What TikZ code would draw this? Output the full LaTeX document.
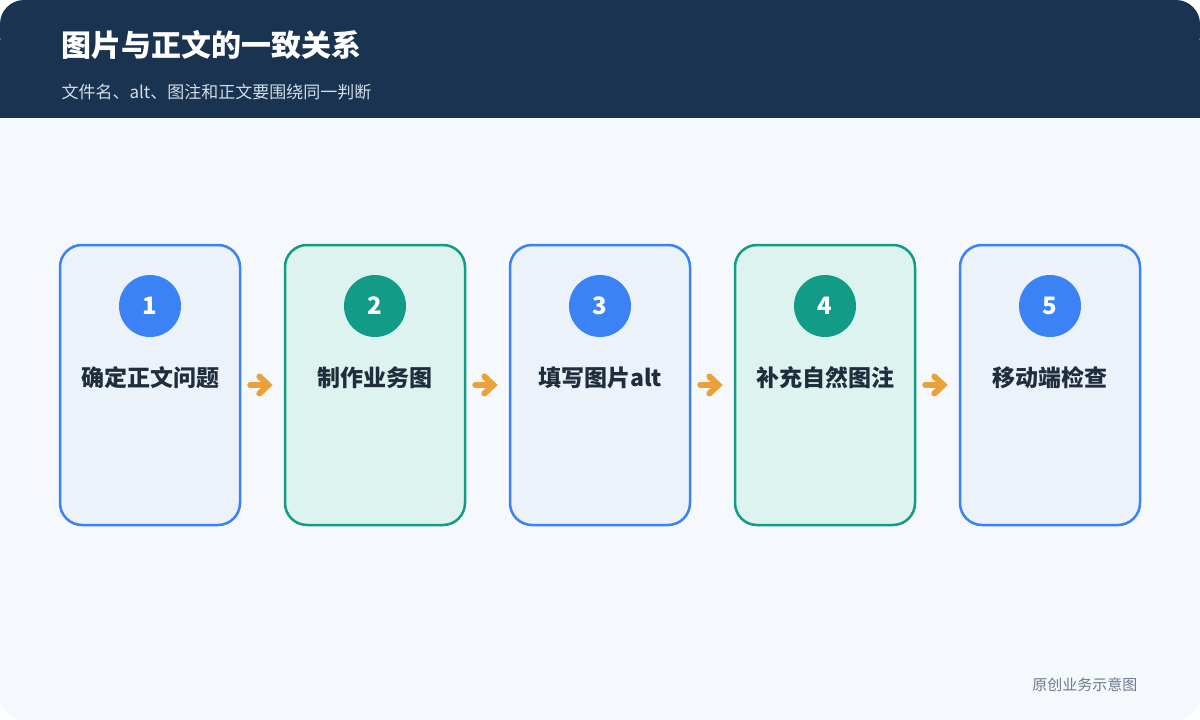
\documentclass[tikz,border=0pt]{standalone}
\usepackage{fontspec}
\setmainfont{Noto Sans CJK SC}
\usetikzlibrary{arrows.meta,positioning}
\definecolor{navy}{HTML}{1A3350}
\definecolor{pagebg}{HTML}{F5F8FC}
\definecolor{bluebd}{HTML}{3B82F6}
\definecolor{bluefill}{HTML}{EBF2FA}
\definecolor{greenbd}{HTML}{129C88}
\definecolor{greenfill}{HTML}{DDF3EF}
\definecolor{textdark}{HTML}{1F2D3D}
\definecolor{arroworange}{HTML}{EBA03A}
\definecolor{subgray}{HTML}{D3DCE8}
\definecolor{footgray}{HTML}{6B7A8F}
\tikzset{
  step/.style={draw=#1bd, fill=#1fill, line width=2.5pt, rounded corners=22pt,
    minimum width=180pt, minimum height=280pt},
  badge/.style={circle, fill=#1bd, minimum size=62pt, inner sep=0pt,
    text=white, font=\bfseries\fontsize{24}{24}\selectfont},
  steplabel/.style={text=textdark, font=\bfseries\fontsize{23}{23}\selectfont},
  flow/.style={arroworange, line width=6pt, line cap=round,
    -{Straight Barb[length=9pt,width=17pt,line cap=round]}, shorten <=9pt, shorten >=11pt}
}
\begin{document}
\begin{tikzpicture}[x=1pt,y=-1pt]
  % --- background and header ---
  \fill[pagebg, rounded corners=24pt] (0,0) rectangle (1200,720);
  \useasboundingbox (0,0) rectangle (1200,720);
  \fill[navy, rounded corners=24pt] (0,0) rectangle (1200,60);
  \fill[navy] (0,40) rectangle (1200,118);
  \node[anchor=west, text=white, font=\bfseries\fontsize{30}{30}\selectfont] (title) at (58,45) {图片与正文的一致关系};
  \node[anchor=west, text=subgray, font=\fontsize{17}{17}\selectfont] (subtitle) at (58,92) {文件名、alt、图注和正文要围绕同一判断};

  % --- steps ---
  \foreach \i/\c/\t in {1/blue/确定正文问题, 2/green/制作业务图, 3/blue/填写图片alt, 4/green/补充自然图注, 5/blue/移动端检查} {
    \node[step=\c] (s\i) at ({150+225*(\i-1)},385) {};
    \node[badge=\c] (b\i) at ({150+225*(\i-1)},306) {\i};
    \node[steplabel] (l\i) at ({150+225*(\i-1)},378) {\t};
  }

  % --- arrows ---
  \foreach \a/\b in {1/2, 2/3, 3/4, 4/5}
    \draw[flow] (s\a.east) -- (s\b.west);

  \node[anchor=east, text=footgray, font=\fontsize{15}{15}\selectfont] (note) at (1141,685) {原创业务示意图};
\end{tikzpicture}
\end{document}
